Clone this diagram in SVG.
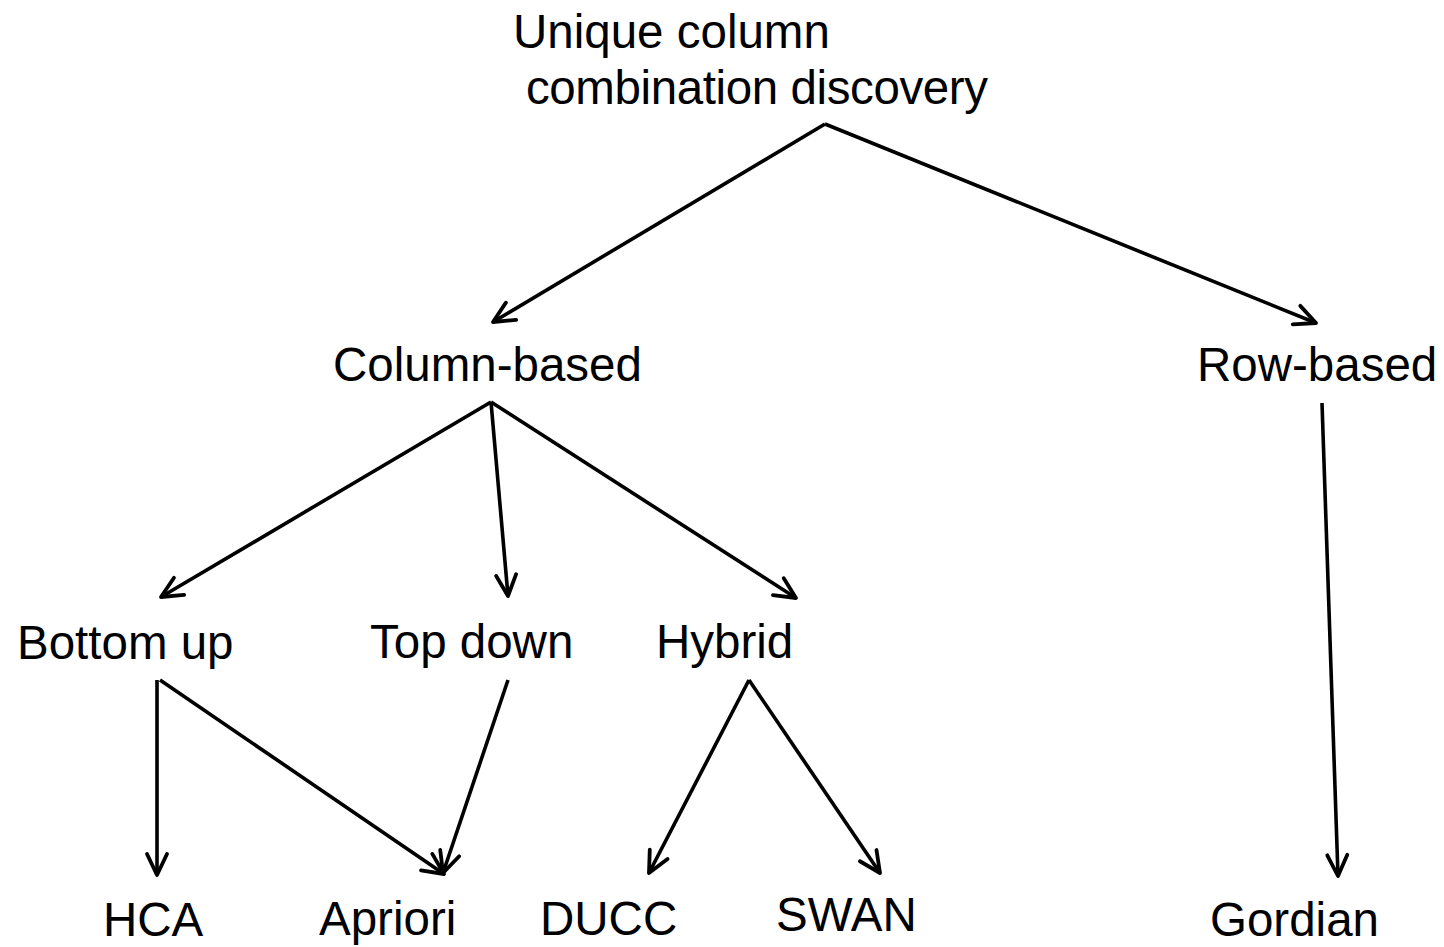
<svg xmlns="http://www.w3.org/2000/svg" width="1444" height="947" viewBox="0 0 1444 947">
  <style>
    .label { font-family: "Liberation Sans", Arial, sans-serif; font-size: 47.5px; fill: #000; }
    .edge { stroke: #000; stroke-width: 3.6; fill: none; marker-end: url(#arrow); }
  </style>
  <defs>
    <marker id="arrow" markerUnits="userSpaceOnUse" viewBox="-26 -15 30 30" markerWidth="30" markerHeight="30" refX="0" refY="0" orient="auto">
      <path d="M-21,-10 L0,0 L-21,10" fill="none" stroke="#000" stroke-width="3.8" stroke-linejoin="round" stroke-linecap="round"/>
    </marker>
  </defs>
  <rect width="1444" height="947" fill="#fff"/>

  <g id="connectors">
    <line class="edge" x1="825" y1="124" x2="493" y2="322"/>
    <line class="edge" x1="825" y1="124" x2="1316" y2="323"/>
    <line class="edge" x1="491" y1="402" x2="161" y2="597"/>
    <line class="edge" x1="491" y1="402" x2="508" y2="596"/>
    <line class="edge" x1="491" y1="402" x2="796" y2="598"/>
    <line class="edge" x1="1322" y1="403" x2="1338" y2="876"/>
    <line class="edge" x1="157" y1="680" x2="157" y2="875"/>
    <line class="edge" x1="160" y1="680" x2="444" y2="874"/>
    <line class="edge" x1="508" y1="680" x2="443" y2="873"/>
    <line class="edge" x1="749" y1="680" x2="649" y2="873"/>
    <line class="edge" x1="749" y1="680" x2="880" y2="873"/>
  </g>

  <g id="node-root">
    <text class="label" x="513" y="48">Unique column</text>
    <text class="label" x="526" y="104" textLength="462">combination discovery</text>
  </g>
  <g id="node-column-based"><text class="label" x="333" y="381">Column-based</text></g>
  <g id="node-row-based"><text class="label" x="1197" y="381">Row-based</text></g>
  <g id="node-bottom-up"><text class="label" x="17" y="659">Bottom up</text></g>
  <g id="node-top-down"><text class="label" x="370" y="658">Top down</text></g>
  <g id="node-hybrid"><text class="label" x="656" y="658">Hybrid</text></g>
  <g id="node-hca"><text class="label" x="103" y="936">HCA</text></g>
  <g id="node-apriori"><text class="label" x="319" y="935">Apriori</text></g>
  <g id="node-ducc"><text class="label" x="540" y="935">DUCC</text></g>
  <g id="node-swan"><text class="label" x="776" y="931">SWAN</text></g>
  <g id="node-gordian"><text class="label" x="1210" y="936">Gordian</text></g>
</svg>
